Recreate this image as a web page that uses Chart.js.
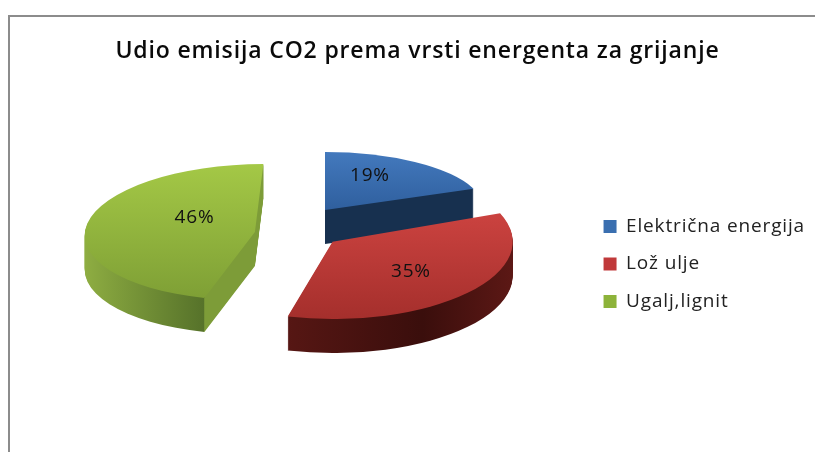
<!DOCTYPE html>
<html>
<head>
<meta charset="utf-8">
<title>Udio emisija CO2</title>
<script src="https://cdn.jsdelivr.net/npm/chart.js@4"></script>
<style>
    html, body { margin: 0; padding: 0; background: #fff; overflow: hidden; }
    #frame { position: absolute; left: 8px; top: 15px; right: 0; bottom: 0; border-top: 2px solid #8c8c8c; border-left: 2px solid #8c8c8c; }
    #chart { position: absolute; left: 0; top: 0; }
</style>
</head>
<body>
<div id="frame"></div>
<canvas id="chart" width="815" height="452"></canvas>
<script>
const chartTitle = 'Udio emisija CO2 prema vrsti energenta za grijanje';
const categories = ['Električna energija', 'Lož ulje', 'Ugalj,lignit'];
const shares = [19, 35, 46];
const legendColors = ['#3a6fb0', '#c0393a', '#8db33a'];

// lažni 3D: svaki isječak se crta spljošten, pa pomaknut od centra
const slices3d = {
    lift: 39,
    shiftX: 0,
    depth: 34,
    tilt: 0.45,
    explode: [40, 40, 48],
    dropY: [0, 5, 10],
    scaleX: [0.94, 1.06, 1],
    scaleY: [0.34, 0.455, 0.4],
    shear: [0, 0, -0.05],
    labelRadius: [0.5, 0.58, 0.36],
    labelNudge: [-10, 0, -11],
    drawOrder: [0, 2, 1],
    top: [['#4379bd', '#2f5f9e'], ['#cc4340', '#a52f2c'], ['#a4c846', '#7e9f35']]
};
const legendDrop = 38;
const textSpacing = '0.85px';

function sliceMatrix(ctx, arc, i, down) {
    const mid = (arc.startAngle + arc.endAngle) / 2;
    const d = slices3d.explode[i];
    ctx.translate(arc.x + slices3d.shiftX + Math.cos(mid) * d,
        arc.y - slices3d.lift + slices3d.dropY[i] + Math.sin(mid) * d * slices3d.tilt + down);
    ctx.transform(slices3d.scaleX[i], 0, slices3d.shear[i], slices3d.scaleY[i], 0, 0);
    ctx.translate(-arc.x, -arc.y);
}

function wallFill(ctx, arc, i) {
    const r = arc.outerRadius;
    const g = ctx.createLinearGradient(arc.x - r, 0, arc.x + r, 0);
    if (i === 0) {
        g.addColorStop(0, '#17304f');
        g.addColorStop(1, '#17304f');
    } else if (i === 1) {
        g.addColorStop(0, '#6e1e1b');
        g.addColorStop(0.35, '#581714');
        g.addColorStop(0.75, '#3a0e0c');
        g.addColorStop(1, '#5c1815');
    } else {
        // ivica lijevo, ravni rez desno od ugla isječka
        const corner = (1 + Math.cos(arc.startAngle)) / 2;
        g.addColorStop(0, '#8fae42');
        g.addColorStop(corner, '#56722a');
        g.addColorStop(corner, '#7d9c38');
        g.addColorStop(1, '#7d9c38');
    }
    return g;
}

function topFill(ctx, arc, i) {
    const r = arc.outerRadius;
    const g = ctx.createLinearGradient(0, arc.y - r, 0, arc.y + r);
    g.addColorStop(i === 1 ? 0.3 : 0, slices3d.top[i][0]);
    g.addColorStop(i === 0 ? 0.5 : 1, slices3d.top[i][1]);
    return g;
}

function drawSlice(ctx, arc, i, down, fill) {
    const copy = Object.create(arc);
    copy.options = Object.assign({}, arc.options, { backgroundColor: fill, borderWidth: 0 });
    ctx.save();
    sliceMatrix(ctx, arc, i, down);
    copy.draw(ctx);
    ctx.restore();
}

const pie3dPlugin = {
    id: 'pie3d',
    beforeLayout(chart) {
        chart.ctx.letterSpacing = textSpacing;
    },
    beforeDraw(chart) {
        chart.ctx.letterSpacing = textSpacing;
    },
    afterLayout(chart) {
        // legenda stoji niže od sredine slike
        chart.legend.top += legendDrop;
        chart.legend.bottom += legendDrop;
    },
    beforeDatasetDraw(chart) {
        const ctx = chart.ctx;
        const arcs = chart.getDatasetMeta(0).data;
        slices3d.drawOrder.forEach(i => {
            const arc = arcs[i];
            const wall = wallFill(ctx, arc, i);
            const top = topFill(ctx, arc, i);
            for (let down = slices3d.depth; down > 0; down--) {
                drawSlice(ctx, arc, i, down, wall);
            }
            drawSlice(ctx, arc, i, 0, top);
        });
        // postoci
        ctx.save();
        ctx.font = '19px "Open Sans"';
        ctx.fillStyle = '#111';
        ctx.textAlign = 'center';
        ctx.textBaseline = 'middle';
        arcs.forEach((arc, i) => {
            const mid = (arc.startAngle + arc.endAngle) / 2;
            const rho = arc.outerRadius * slices3d.labelRadius[i];
            const nx = Math.cos(mid) * rho;
            const ny = Math.sin(mid) * rho;
            const d = slices3d.explode[i];
            const x = arc.x + slices3d.shiftX + Math.cos(mid) * d + nx * slices3d.scaleX[i] + ny * slices3d.shear[i];
            const y = arc.y - slices3d.lift + slices3d.dropY[i] + Math.sin(mid) * d * slices3d.tilt + ny * slices3d.scaleY[i] + slices3d.labelNudge[i];
            ctx.fillText(shares[i] + '%', x, y);
        });
        ctx.restore();
        return false;
    }
};

new Chart(document.getElementById('chart'), {
    type: 'pie',
    data: {
        labels: categories,
        datasets: [{
            data: shares,
            backgroundColor: legendColors,
            borderWidth: 0,
            radius: 170
        }]
    },
    options: {
        responsive: false,
        animation: false,
        layout: { padding: { left: 20, right: 0, top: 0, bottom: 0 } },
        plugins: {
            tooltip: { enabled: false },
            title: {
                display: true,
                text: chartTitle,
                color: '#0a0a0a',
                font: { family: '"Open Sans"', size: 23, weight: '600' },
                padding: { top: 38, bottom: 10 }
            },
            legend: {
                position: 'right',
                labels: {
                    color: '#222',
                    font: { family: '"Open Sans"', size: 19 },
                    boxWidth: 13,
                    boxHeight: 13,
                    padding: 18.5
                }
            }
        }
    },
    plugins: [pie3dPlugin]
});
</script>
</body>
</html>
